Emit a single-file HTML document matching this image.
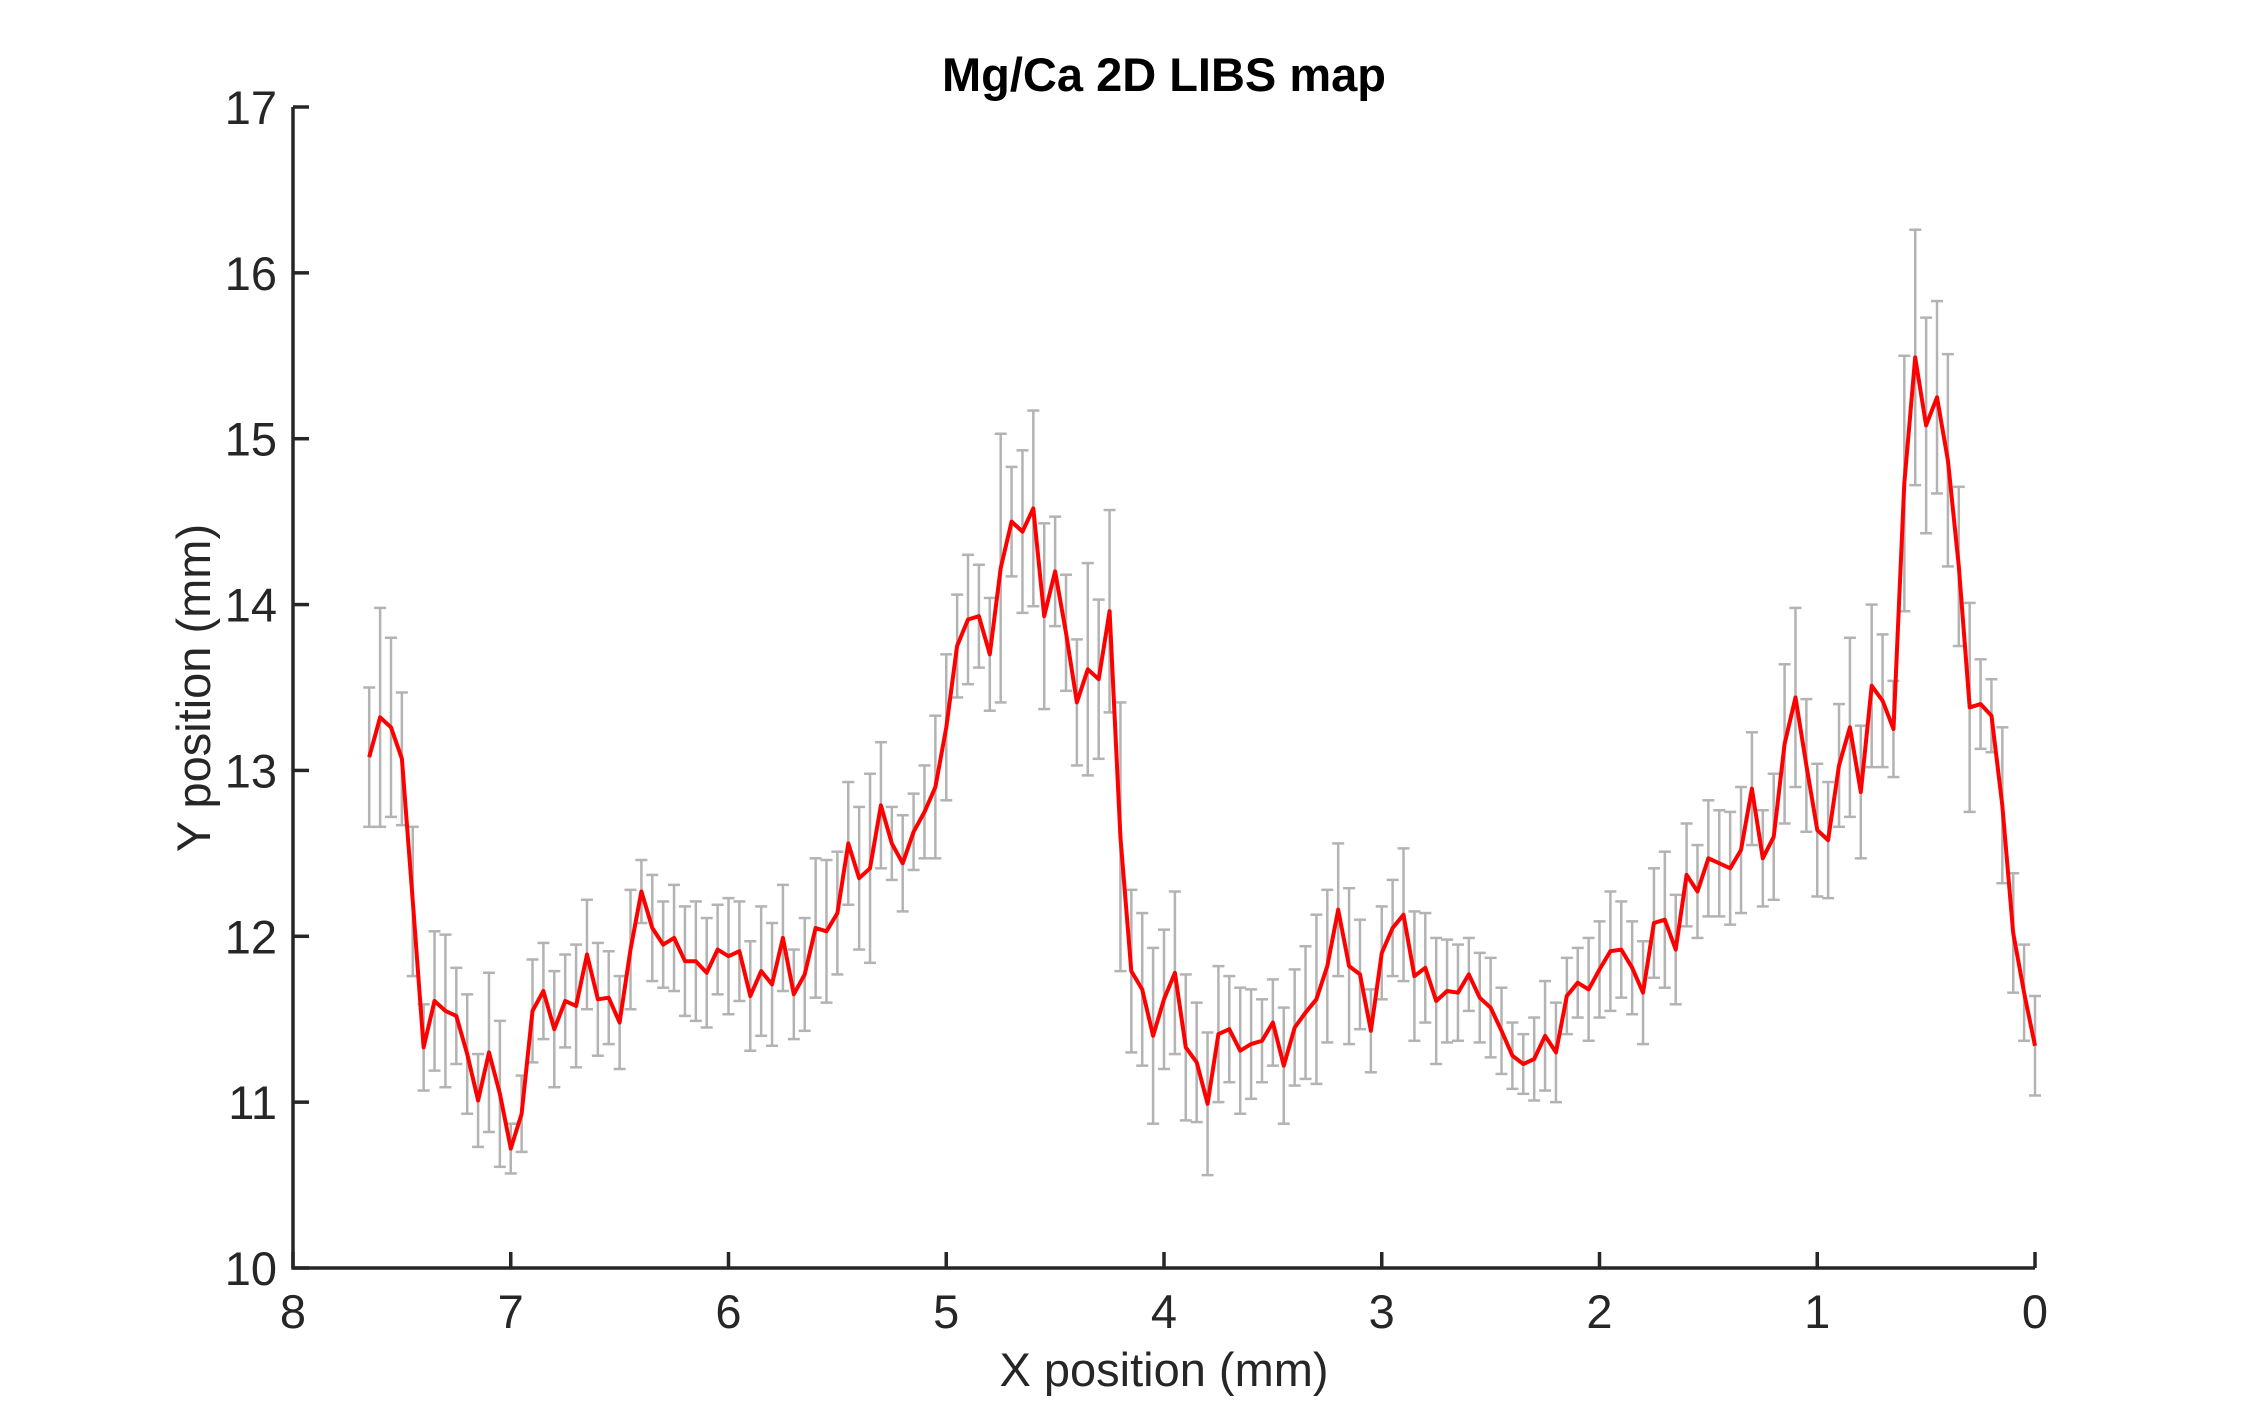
<!DOCTYPE html>
<html><head><meta charset="utf-8"><style>
html,body{margin:0;padding:0;background:#fff;}
svg{display:block;font-family:"Liberation Sans",Arial,sans-serif;}
</style></head><body>
<svg id="chart" width="2250" height="1426" viewBox="0 0 2250 1426" xmlns="http://www.w3.org/2000/svg">
<rect width="2250" height="1426" fill="#fff"/>
<text x="1164" y="91" text-anchor="middle" font-size="47" font-weight="bold" fill="#000">Mg/Ca 2D LIBS map</text>
<g id="errbars"></g>
<g id="series"></g>
<g id="axes"></g>
<text x="1164" y="1386" text-anchor="middle" font-size="47" fill="#262626">X position (mm)</text>
<text x="0" y="0" transform="translate(210,688) rotate(-90)" text-anchor="middle" font-size="47" fill="#262626">Y position (mm)</text>
</svg>
<script>
const xValues = [7.65,7.60,7.55,7.50,7.45,7.40,7.35,7.30,7.25,7.20,7.15,7.10,7.05,7.00,6.95,6.90,6.85,6.80,6.75,6.70,6.65,6.60,6.55,6.50,6.45,6.40,6.35,6.30,6.25,6.20,6.15,6.10,6.05,6.00,5.95,5.90,5.85,5.80,5.75,5.70,5.65,5.60,5.55,5.50,5.45,5.40,5.35,5.30,5.25,5.20,5.15,5.10,5.05,5.00,4.95,4.90,4.85,4.80,4.75,4.70,4.65,4.60,4.55,4.50,4.45,4.40,4.35,4.30,4.25,4.20,4.15,4.10,4.05,4.00,3.95,3.90,3.85,3.80,3.75,3.70,3.65,3.60,3.55,3.50,3.45,3.40,3.35,3.30,3.25,3.20,3.15,3.10,3.05,3.00,2.95,2.90,2.85,2.80,2.75,2.70,2.65,2.60,2.55,2.50,2.45,2.40,2.35,2.30,2.25,2.20,2.15,2.10,2.05,2.00,1.95,1.90,1.85,1.80,1.75,1.70,1.65,1.60,1.55,1.50,1.45,1.40,1.35,1.30,1.25,1.20,1.15,1.10,1.05,1.00,0.95,0.90,0.85,0.80,0.75,0.70,0.65,0.60,0.55,0.50,0.45,0.40,0.35,0.30,0.25,0.20,0.15,0.10,0.05,0.00];
const yValues = [13.08,13.32,13.26,13.07,12.21,11.33,11.61,11.55,11.52,11.29,11.01,11.30,11.05,10.72,10.93,11.55,11.67,11.44,11.61,11.58,11.89,11.62,11.63,11.48,11.92,12.27,12.05,11.95,11.99,11.85,11.85,11.78,11.92,11.88,11.91,11.64,11.79,11.71,11.99,11.65,11.77,12.05,12.03,12.14,12.56,12.35,12.41,12.79,12.56,12.44,12.63,12.75,12.90,13.26,13.75,13.91,13.93,13.70,14.22,14.50,14.44,14.58,13.93,14.20,13.83,13.41,13.61,13.55,13.96,12.60,11.79,11.68,11.40,11.62,11.78,11.33,11.24,10.99,11.41,11.44,11.31,11.35,11.37,11.48,11.22,11.45,11.54,11.62,11.82,12.16,11.82,11.77,11.43,11.90,12.05,12.13,11.76,11.81,11.61,11.67,11.66,11.77,11.63,11.57,11.43,11.28,11.23,11.26,11.40,11.30,11.64,11.72,11.68,11.80,11.91,11.92,11.81,11.66,12.08,12.10,11.92,12.37,12.27,12.47,12.44,12.41,12.52,12.89,12.47,12.60,13.16,13.44,13.03,12.64,12.58,13.03,13.26,12.87,13.51,13.42,13.25,14.73,15.49,15.08,15.25,14.87,14.23,13.38,13.40,13.33,12.79,12.02,11.66,11.34];
const errValues = [0.42,0.66,0.54,0.40,0.45,0.26,0.42,0.46,0.29,0.36,0.28,0.48,0.44,0.15,0.23,0.31,0.29,0.35,0.28,0.37,0.33,0.34,0.28,0.28,0.36,0.19,0.32,0.26,0.32,0.33,0.36,0.33,0.27,0.35,0.30,0.33,0.39,0.37,0.32,0.27,0.34,0.42,0.43,0.37,0.37,0.43,0.57,0.38,0.22,0.29,0.23,0.28,0.43,0.44,0.31,0.39,0.31,0.34,0.81,0.33,0.49,0.59,0.56,0.33,0.35,0.38,0.64,0.48,0.61,0.81,0.49,0.46,0.53,0.42,0.49,0.44,0.36,0.43,0.41,0.32,0.38,0.33,0.25,0.26,0.35,0.35,0.40,0.51,0.46,0.40,0.47,0.33,0.25,0.28,0.29,0.40,0.39,0.33,0.38,0.31,0.29,0.22,0.27,0.30,0.26,0.20,0.18,0.25,0.33,0.30,0.23,0.21,0.31,0.29,0.36,0.29,0.28,0.31,0.33,0.41,0.33,0.31,0.28,0.35,0.32,0.34,0.38,0.34,0.29,0.38,0.48,0.54,0.40,0.40,0.35,0.37,0.54,0.40,0.49,0.40,0.29,0.77,0.77,0.65,0.58,0.64,0.48,0.63,0.27,0.22,0.47,0.36,0.29,0.30];
const xTicks = [8,7,6,5,4,3,2,1,0];
const yTicks = [10,11,12,13,14,15,16,17];

const NS = 'http://www.w3.org/2000/svg';
const L = 293, R = 2035, T = 107, B = 1268;
const xMin = 0, xMax = 8, yMin = 10, yMax = 17;
function sx(v){ return R - (v - xMin) / (xMax - xMin) * (R - L); }
function sy(v){ return B - (v - yMin) / (yMax - yMin) * (B - T); }
function mk(tag, attrs, parent){
  const e = document.createElementNS(NS, tag);
  for (const k in attrs) e.setAttribute(k, attrs[k]);
  parent.appendChild(e);
  return e;
}
const eb = document.getElementById('errbars');
for (let i = 0; i < xValues.length; i++) {
  const x = sx(xValues[i]), y1 = sy(yValues[i] - errValues[i]), y2 = sy(yValues[i] + errValues[i]);
  const g = mk('g', {stroke:'#b3b3b3','stroke-width':2.5,fill:'none'}, eb);
  
  
  mk('line', {x1:x,y1:y1,x2:x,y2:y2}, g);
  mk('line', {x1:x-6,y1:y1,x2:x+6,y2:y1}, g);
  mk('line', {x1:x-6,y1:y2,x2:x+6,y2:y2}, g);
}
const ser = document.getElementById('series');
let d = '';
for (let i = 0; i < xValues.length; i++) d += (i ? 'L' : 'M') + sx(xValues[i]).toFixed(1) + ' ' + sy(yValues[i]).toFixed(1);
const p = mk('path', {d:d, stroke:'#ff0000','stroke-width':4,fill:'none','stroke-linejoin':'round'}, ser);



const ax = document.getElementById('axes');
const axisPath = mk('path', {d:'M'+L+' '+T+'L'+L+' '+B+'L'+R+' '+B, stroke:'#262626','stroke-width':3.5,fill:'none'}, ax);


xTicks.forEach(t => {
  const x = sx(t);
  const tk = mk('line', {x1:x,y1:B,x2:x,y2:B-16,stroke:'#262626','stroke-width':3.5}, ax);
  
  
  const lb = mk('text', {x:x,y:B+60,'text-anchor':'middle','font-size':47,fill:'#262626'}, ax);
  lb.textContent = t;
  
  
});
yTicks.forEach(t => {
  const y = sy(t);
  const tk = mk('line', {x1:L,y1:y,x2:L+16,y2:y,stroke:'#262626','stroke-width':3.5}, ax);
  
  
  const lb = mk('text', {x:L-16,y:y+17,'text-anchor':'end','font-size':47,fill:'#262626'}, ax);
  lb.textContent = t;
  
  
});
</script>
</body></html>
